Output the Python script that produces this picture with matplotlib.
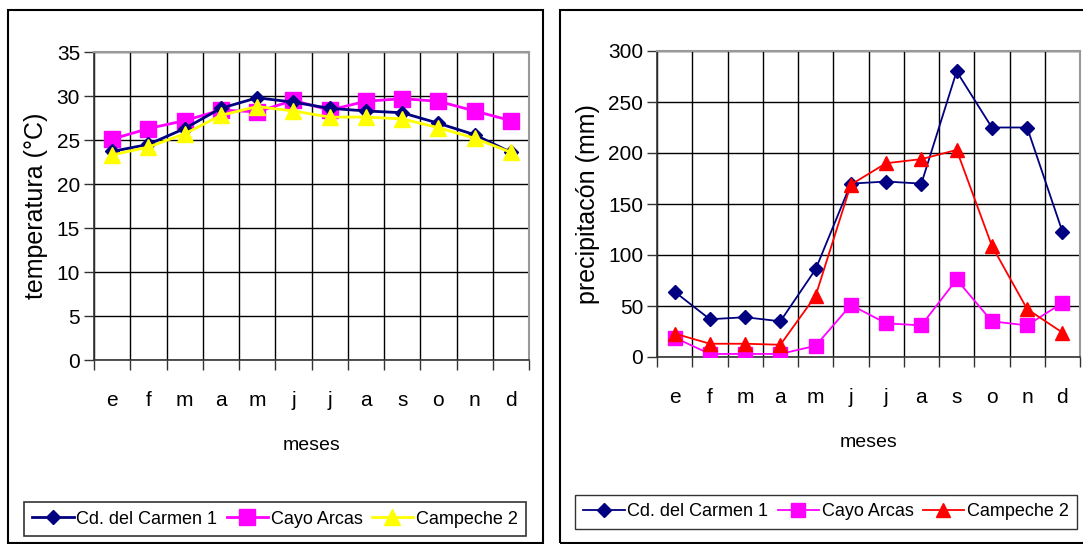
import matplotlib
matplotlib.use("Agg")
import matplotlib.pyplot as plt
from matplotlib.patches import Rectangle

plt.rcParams['font.family'] = ['Liberation Sans', 'DejaVu Sans']

months = ['e', 'f', 'm', 'a', 'm', 'j', 'j', 'a', 's', 'o', 'n', 'd']
series_names = ['Cd. del Carmen 1', 'Cayo Arcas', 'Campeche 2']

temp_carmen = [23.7, 24.5, 26.3, 28.6, 29.8, 29.3, 28.6, 28.3, 28.1, 26.9, 25.6, 23.6]
temp_cayo = [25.1, 26.3, 27.2, 28.4, 28.2, 29.5, 28.4, 29.4, 29.7, 29.4, 28.3, 27.2]
temp_campeche = [23.3, 24.2, 25.7, 27.8, 28.8, 28.3, 27.6, 27.6, 27.4, 26.4, 25.2, 23.6]

prec_carmen = [64, 37, 39, 35, 86, 170, 172, 170, 280, 225, 225, 123]
prec_cayo = [19, 3, 3, 3, 11, 51, 33, 31, 76, 35, 31, 53]
prec_campeche = [23, 13, 13, 12, 60, 169, 190, 194, 203, 109, 47, 24]

W, H = 1083, 544
fig = plt.figure(figsize=(W / 100, H / 100), dpi=100)

def fx(px):
    return px / W

def fy(py):
    return 1 - py / H

# panel borders
fig.patches.append(Rectangle((fx(8), fy(543)), fx(543) - fx(8), fy(10) - fy(543),
                             transform=fig.transFigure, fill=False, edgecolor='black', lw=1.5))
fig.patches.append(Rectangle((fx(560), fy(543)), fx(1095) - fx(560), fy(10) - fy(543),
                             transform=fig.transFigure, fill=False, edgecolor='black', lw=1.5))

def make_axes(x0, x1, y0, y1):
    return fig.add_axes([fx(x0), fy(y1), fx(x1) - fx(x0), fy(y0) - fy(y1)])

def style(ax, ymax, ystep, ylabel, labelpad):
    n = len(months)
    ax.set_xlim(-0.5, n - 0.5)
    ax.set_ylim(0, ymax)
    ax.set_yticks(range(0, ymax + 1, ystep))
    ax.set_xticks([i - 0.5 for i in range(n + 1)])
    ax.set_xticklabels([])
    ax.set_xticks(range(n), minor=True)
    ax.set_xticklabels(months, minor=True)
    ax.tick_params(axis='x', which='minor', length=0, pad=22, labelsize=15)
    ax.tick_params(axis='x', which='major', direction='out', length=7, width=1, color='#333333')
    ax.tick_params(axis='y', direction='out', length=7, width=1, color='#333333', labelsize=15, pad=3)
    ax.grid(True, which='major', color='black', lw=1)
    ax.set_axisbelow(True)
    for s in ['top', 'right']:
        ax.spines[s].set_color('#999999')
        ax.spines[s].set_linewidth(1.5)
    for s in ['left', 'bottom']:
        ax.spines[s].set_color('#333333')
        ax.spines[s].set_linewidth(1.2)
    ax.set_ylabel(ylabel, fontsize=18, labelpad=labelpad)
    ax.set_xlabel('meses', fontsize=14, labelpad=20)

x = list(range(len(months)))

legend_kw = dict(loc='center', bbox_transform=fig.transFigure, ncol=3, frameon=True,
                 fancybox=False, edgecolor='black', handlelength=2.3, handletextpad=0.15,
                 columnspacing=0.5, borderpad=0.45, borderaxespad=0,
                 prop={'size': 13})

# left chart
ax1 = make_axes(94, 529, 52, 360)
ax1.plot(x, temp_carmen, color='#000080', marker='D', ms=7, lw=2, label=series_names[0], zorder=5)
ax1.plot(x, temp_cayo, color='#FF00FF', marker='s', ms=11, lw=2, label=series_names[1], zorder=4)
ax1.plot(x, temp_campeche, color='#FFFF00', marker='^', ms=11, lw=2, label=series_names[2], zorder=6)
style(ax1, 35, 5, 'temperatura (°C)', 6)
leg1 = ax1.legend(bbox_to_anchor=(fx(275), fy(519)), **legend_kw)
leg1.get_frame().set_linewidth(1.2)

# right chart
ax2 = make_axes(657, 1080, 51, 357)
ax2.plot(x, prec_carmen, color='#000080', marker='D', ms=7, lw=1.3, label=series_names[0], zorder=5)
ax2.plot(x, prec_cayo, color='#FF00FF', marker='s', ms=10, lw=1.3, label=series_names[1], zorder=4)
ax2.plot(x, prec_campeche, color='#FF0000', marker='^', ms=10, lw=1.3, label=series_names[2], zorder=6)
style(ax2, 300, 50, 'precipitacón (mm)', 6)
leg2 = ax2.legend(bbox_to_anchor=(fx(826), fy(512)), **legend_kw)
leg2.get_frame().set_linewidth(1.0)

fig.savefig('out.png', dpi=100)
